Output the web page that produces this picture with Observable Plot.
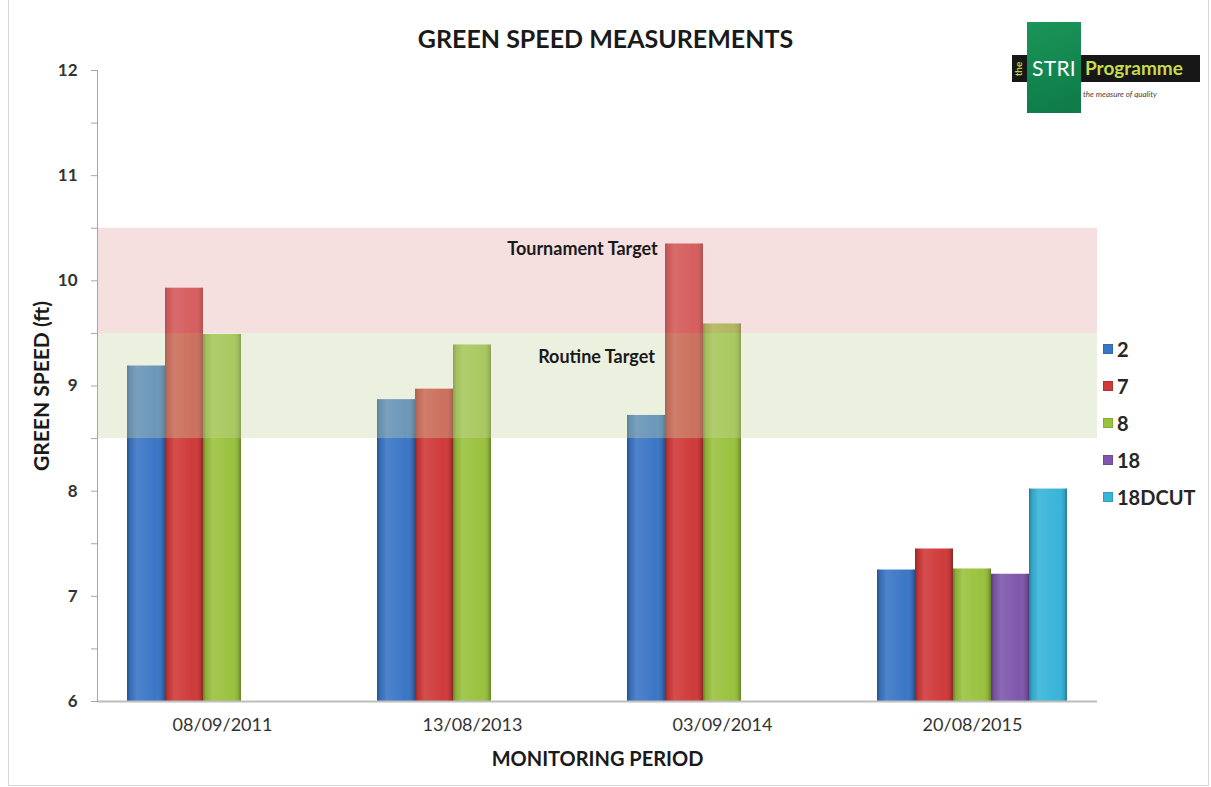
<!DOCTYPE html>
<html>
<head>
<meta charset="utf-8">
<script src="https://cdn.jsdelivr.net/npm/d3@7"></script>
<script src="https://cdn.jsdelivr.net/npm/@observablehq/plot@0.6"></script>
<style>
  body { margin: 0; background: #fff; font-family: Lato, "Open Sans", sans-serif; }
  #wrap { position: relative; width: 1211px; height: 787px; overflow: hidden; background: #fff; }
  #border { position: absolute; left: 8px; top: -1px; width: 1201px; height: 787px; border: 1px solid #d6d6d6; box-sizing: border-box; pointer-events: none; }
  #title { height: 60px; box-sizing: border-box; padding-top: 23px; text-align: center; font: bold 25px Lato, sans-serif; color: #1a1a1a; line-height: 30px; }
  #chart svg { display: block; }
  g[aria-label="y-axis tick label"] text { font-family: Lato, sans-serif; font-weight: bold; font-size: 17px; fill: #333; }
  g[aria-label="y-axis label"] text { font-family: Lato, sans-serif; font-weight: bold; font-size: 21px; fill: #1a1a1a; }
  g[aria-label="fx-axis tick label"] text { font-family: Lato, sans-serif; font-size: 18px; fill: #333; }
  g[aria-label="fx-axis label"] text { font-family: Lato, sans-serif; font-weight: bold; font-size: 20px; fill: #1a1a1a; }
  #legend { position: absolute; left: 1103px; top: 331px; font: bold 20px Lato, sans-serif; color: #262626; }
  #legend .item { height: 36.8px; display: flex; align-items: center; }
  #legend .sw { width: 10px; height: 10px; margin-right: 4px; box-shadow: inset 0 0 0 1px rgba(0,0,0,0.12); }
  .abs { position: absolute; }
</style>
</head>
<body>
<div id="wrap">
  <div id="title">GREEN SPEED MEASUREMENTS</div>
  <div id="chart"></div>
  <div id="legend"></div>
  <div id="logo">
    <div class="abs" style="left:1012px;top:55px;width:188px;height:27px;background:#171717;"></div>
    <div class="abs" style="left:1027px;top:22px;width:54px;height:91px;background:linear-gradient(160deg,#1c9559 0%,#11844e 60%,#0f7a47 100%);"></div>
    <div class="abs" style="left:1004px;top:63px;width:28px;height:12px;transform:rotate(-90deg);font:bold 10px Lato,sans-serif;color:#b9cf45;text-align:center;line-height:12px;">the</div>
    <div class="abs" style="left:1032px;top:56px;font:21px Lato,sans-serif;color:#fff;line-height:24px;letter-spacing:0.3px;">STRI</div>
    <div class="abs" style="left:1085px;top:57px;font:bold 19px Lato,sans-serif;color:#c5da4c;line-height:22px;">Programme</div>
    <div class="abs" style="left:1083px;top:89px;font:italic 8px Lato,sans-serif;color:#444;line-height:10px;">the measure of quality</div>
  </div>
  <div id="border"></div>
</div>
<script>
// ---- data ----
const dates = ["08/09/2011", "13/08/2013", "03/09/2014", "20/08/2015"];
const series = ["2", "7", "8", "18", "18DCUT"];
const colors = ["#3b76c6", "#d03a3a", "#9ac23e", "#7f57ad", "#38b5d9"];
const val2 = [9.19, 8.87, 8.72, 7.25];
const val7 = [9.93, 8.97, 10.35, 7.45];
const val8 = [9.49, 9.39, 9.59, 7.26];
const val18 = [null, null, null, 7.21];
const val18DCUT = [null, null, null, 8.02];
const bandLabels = ["Tournament Target", "Routine Target"];
const bandLow = [9.5, 8.5];
const bandHigh = [10.5, 9.5];
const bandColors = ["#e2a3a3", "#c9d7a2"];
const yTicks = [6, 6.5, 7, 7.5, 8, 8.5, 9, 9.5, 10, 10.5, 11, 11.5, 12];

// ---- build table ----
const seriesValues = [val2, val7, val8, val18, val18DCUT];
const rows = [];
series.forEach((s, i) => {
  dates.forEach((d, j) => {
    const v = seriesValues[i][j];
    if (v != null) rows.push({date: d, series: s, value: v});
  });
});
const bands = bandLabels.map((label, i) => ({label, y1: bandLow[i], y2: bandHigh[i]}));

const labelStyle = {fx: () => dates[1], y: "y2", text: "label", frameAnchor: "right", textAnchor: "middle",
  fontFamily: "Lato, sans-serif", fontWeight: "bold", fontSize: 18, fill: "#1a1a1a"};

const svg = Plot.plot({
  width: 1211,
  height: 727,
  marginTop: 10,
  marginBottom: 86,
  marginLeft: 97,
  marginRight: 114,
  style: {background: "transparent"},
  fx: {domain: dates, padding: 0},
  x: {domain: series, paddingInner: 0, paddingOuter: 0.77, axis: null},
  y: {domain: [6, 12]},
  color: {domain: series, range: colors},
  marks: [
    Plot.barY(rows, {fx: "date", x: "series", y1: 6, y2: "value", fill: "series"}),
    Plot.barY(rows, {fx: "date", x: "series", y1: 6, y2: "value", fill: "url(#bevel)"}),
    Plot.rect([bands[0]], {y1: "y1", y2: "y2", fill: bandColors[0], fillOpacity: 0.35}),
    Plot.rect([bands[1]], {y1: "y1", y2: "y2", fill: bandColors[1], fillOpacity: 0.35}),
    Plot.text([bands[0]], {...labelStyle, dx: -15, dy: 21}),
    Plot.text([bands[1]], {...labelStyle, dx: -1, dy: 24}),
    Plot.ruleY([6], {stroke: "#bdbdbd", strokeWidth: 2}),
    Plot.frame({anchor: "left", facetAnchor: "left", stroke: "#a6a6a6"}),
    Plot.axisY({ticks: yTicks, tickSize: 6, tickPadding: 14, stroke: "#a6a6a6",
      tickFormat: d => Number.isInteger(d) ? String(d) : "",
      label: "GREEN SPEED (ft)", labelArrow: "none", labelAnchor: "center", labelOffset: 63}),
    Plot.axisFx({anchor: "bottom", tickSize: 0, tickPadding: 17,
      label: "MONITORING PERIOD", labelAnchor: "center", labelOffset: 64})
  ]
});

// gradient definition used for bar bevel
const defs = d3.select(svg).insert("defs", ":first-child");
const grad = defs.append("linearGradient").attr("id", "bevel")
  .attr("x1", 0).attr("x2", 1).attr("y1", 0).attr("y2", 0);
[[0, "#000", 0.32], [0.08, "#000", 0.08], [0.25, "#fff", 0.10], [0.75, "#fff", 0.0], [0.92, "#000", 0.1], [1, "#000", 0.32]]
  .forEach(([o, c, a]) => grad.append("stop").attr("offset", o).attr("stop-color", c).attr("stop-opacity", a));

document.getElementById("chart").appendChild(svg);

// legend
const legend = d3.select("#legend");
series.forEach((s, i) => {
  const it = legend.append("div").attr("class", "item");
  it.append("div").attr("class", "sw").style("background", colors[i]);
  it.append("span").text(s);
});
</script>
</body>
</html>
